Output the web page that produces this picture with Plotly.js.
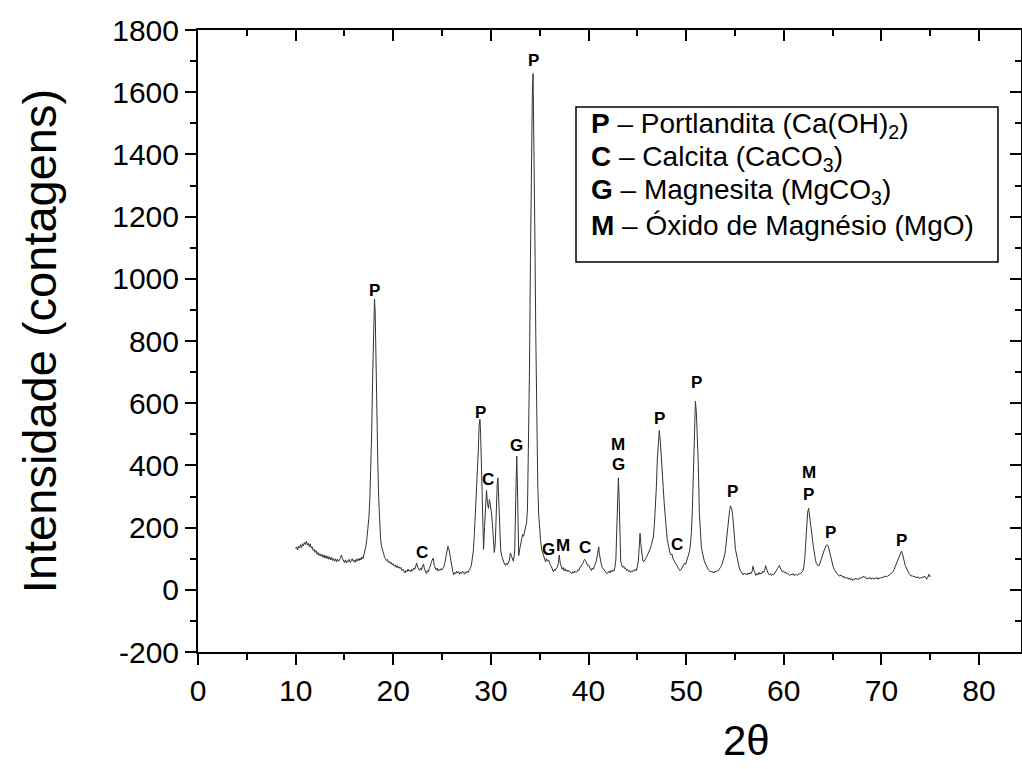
<!DOCTYPE html>
<html>
<head>
<meta charset="utf-8">
<script src="https://cdn.plot.ly/plotly-3.0.1.min.js"></script>
<style>html,body{margin:0;padding:0;background:#fff;}#chart{width:1022px;height:769px;}</style>
</head>
<body>
<div id="chart"></div>
<script>
// 2θ positions (degrees)
const twoTheta = [
10.0,10.1,10.2,10.3,10.4,10.5,10.6,10.7,10.8,10.9,11.0,11.1,11.2,11.3,11.4,11.5,11.6,11.7,11.8,11.9,
12.0,12.1,12.2,12.3,12.4,12.5,12.6,12.7,12.8,12.9,13.0,13.1,13.2,13.3,13.4,13.5,13.6,13.7,13.8,13.9,
14.0,14.1,14.2,14.3,14.4,14.5,14.6,14.7,14.8,14.9,15.0,15.1,15.2,15.3,15.4,15.5,15.6,15.7,15.8,15.9,
16.0,16.1,16.2,16.3,16.4,16.5,16.6,16.7,16.8,16.9,17.0,17.1,17.2,17.3,17.4,17.5,17.6,17.7,17.8,17.9,
18.0,18.08,18.15,18.2,18.3,18.4,18.5,18.6,18.7,18.8,18.9,19.0,19.1,19.2,19.3,19.4,19.5,19.6,19.7,19.8,19.9,
20.0,20.1,20.2,20.3,20.4,20.5,20.6,20.7,20.8,20.9,21.0,21.1,21.2,21.3,21.4,21.5,21.6,21.7,21.8,21.9,
22.0,22.1,22.2,22.3,22.4,22.5,22.6,22.7,22.8,22.9,23.0,23.1,23.2,23.3,23.4,23.5,23.6,23.7,23.8,23.9,
24.0,24.1,24.2,24.3,24.4,24.5,24.6,24.7,24.8,24.9,25.0,25.1,25.2,25.3,25.4,25.5,25.6,25.7,25.8,25.9,
26.0,26.1,26.2,26.3,26.4,26.5,26.6,26.7,26.8,26.9,27.0,27.1,27.2,27.3,27.4,27.5,27.6,27.7,27.8,27.9,
28.0,28.1,28.2,28.3,28.4,28.5,28.6,28.7,28.8,28.88,28.95,29.05,29.15,29.25,29.35,29.45,29.55,29.65,29.75,29.85,29.95,
30.05,30.15,30.25,30.35,30.45,30.55,30.65,30.72,30.8,30.9,31.0,31.1,31.2,31.3,31.4,31.5,31.6,31.7,31.8,31.9,
32.0,32.1,32.2,32.3,32.4,32.45,32.55,32.65,32.72,32.8,32.85,32.95,33.05,33.15,33.25,33.35,33.45,33.55,33.65,33.75,33.85,33.95,
34.05,34.15,34.25,34.32,34.4,34.5,34.6,34.7,34.8,34.9,35.0,35.1,35.2,35.3,35.4,35.5,35.6,35.7,35.8,35.9,
36.0,36.1,36.2,36.3,36.4,36.5,36.6,36.7,36.8,36.9,37.0,37.1,37.2,37.3,37.4,37.5,37.6,37.7,37.8,37.9,
38.0,38.1,38.2,38.3,38.4,38.5,38.6,38.7,38.8,38.9,39.0,39.1,39.2,39.3,39.4,39.5,39.6,39.7,39.8,39.9,
40.0,40.1,40.2,40.3,40.4,40.5,40.6,40.7,40.8,40.9,41.0,41.05,41.1,41.2,41.3,41.4,41.5,41.6,41.7,41.8,41.9,
42.0,42.1,42.2,42.3,42.4,42.5,42.6,42.7,42.8,42.9,43.0,43.06,43.12,43.2,43.3,43.4,43.5,43.6,43.7,43.8,43.9,
44.0,44.1,44.2,44.3,44.4,44.5,44.6,44.7,44.8,44.9,45.0,45.1,45.2,45.28,45.35,45.45,45.55,45.65,45.75,45.85,45.95,
46.05,46.15,46.25,46.35,46.45,46.55,46.65,46.75,46.85,46.95,47.05,47.15,47.25,47.35,47.45,47.55,47.65,47.75,47.85,47.95,
48.05,48.15,48.25,48.35,48.45,48.55,48.65,48.75,48.85,48.95,49.05,49.15,49.25,49.35,49.45,49.55,49.65,49.75,49.85,49.95,
50.05,50.15,50.25,50.35,50.45,50.55,50.65,50.75,50.85,50.95,51.05,51.15,51.25,51.35,51.45,51.55,51.65,51.75,51.85,51.95,
52.05,52.15,52.25,52.35,52.45,52.55,52.65,52.75,52.85,52.95,53.05,53.15,53.25,53.35,53.45,53.55,53.65,53.75,53.85,53.95,
54.05,54.15,54.25,54.35,54.45,54.55,54.65,54.75,54.85,54.95,55.05,55.15,55.25,55.35,55.45,55.55,55.65,55.75,55.85,55.95,
56.05,56.15,56.25,56.35,56.45,56.55,56.65,56.75,56.85,56.95,57.05,57.15,57.25,57.35,57.45,57.55,57.65,57.75,57.85,57.95,
58.05,58.15,58.25,58.35,58.45,58.55,58.65,58.75,58.85,58.95,59.05,59.15,59.25,59.35,59.45,59.55,59.65,59.75,59.85,59.95,
60.05,60.15,60.25,60.35,60.45,60.55,60.65,60.75,60.85,60.95,61.05,61.15,61.25,61.35,61.45,61.55,61.65,61.75,61.85,61.95,
62.05,62.15,62.25,62.35,62.45,62.55,62.65,62.75,62.85,62.95,63.05,63.15,63.25,63.35,63.45,63.55,63.65,63.75,63.85,63.95,
64.05,64.15,64.25,64.35,64.45,64.55,64.65,64.75,64.85,64.95,65.05,65.15,65.25,65.35,65.45,65.55,65.65,65.75,65.85,65.95,
66.05,66.15,66.25,66.35,66.45,66.55,66.65,66.75,66.85,66.95,67.05,67.15,67.25,67.35,67.45,67.55,67.65,67.75,67.85,67.95,
68.05,68.15,68.25,68.35,68.45,68.55,68.65,68.75,68.85,68.95,69.05,69.15,69.25,69.35,69.45,69.55,69.65,69.75,69.85,69.95,
70.05,70.15,70.25,70.35,70.45,70.55,70.65,70.75,70.85,70.95,71.05,71.15,71.25,71.35,71.45,71.55,71.65,71.75,71.85,71.95,
72.05,72.15,72.25,72.35,72.45,72.55,72.65,72.75,72.85,72.95,73.05,73.15,73.25,73.35,73.45,73.55,73.65,73.75,73.85,73.95,
74.05,74.15,74.25,74.35,74.45,74.55,74.65,74.75,74.85,74.95,75.0
];
// Intensity (counts)
const counts = [
132,138,128,140,134,145,136,148,141,152,146,156,144,150,138,148,134,138,126,130,
120,126,114,120,110,116,108,114,104,112,102,110,100,108,98,106,96,104,94,100,
92,100,90,98,92,96,104,112,100,94,88,96,86,94,90,98,88,94,100,92,
96,88,98,92,100,94,102,96,106,100,112,122,140,165,190,230,290,380,520,700,
880,935,890,780,620,440,300,200,165,140,125,112,106,100,94,98,88,92,84,88,80,
84,76,80,72,78,70,74,68,72,62,66,58,54,62,58,66,60,64,58,66,
62,70,66,76,86,72,66,62,70,64,78,82,66,56,52,62,58,70,76,90,
98,102,78,68,64,70,60,66,62,68,64,70,76,90,110,128,140,132,110,92,
82,58,48,56,52,60,54,58,50,56,52,60,56,50,58,54,60,56,66,70,
78,96,125,175,240,280,330,440,530,548,500,340,190,130,200,290,320,280,262,290,275,
250,215,160,120,150,260,340,360,290,180,130,110,98,88,82,78,86,80,88,96,
118,110,100,92,110,135,300,430,330,150,110,130,150,170,178,172,188,198,215,260,420,700,
1050,1380,1600,1660,1480,1160,820,520,340,240,190,155,130,118,108,96,90,100,92,96,
84,80,74,64,58,66,62,70,72,84,112,86,70,66,72,62,68,60,64,58,
62,56,54,52,58,54,60,56,58,64,62,70,74,78,84,92,98,94,86,78,
80,72,66,62,70,66,76,84,92,112,132,138,118,96,84,72,68,62,58,56,52,
56,60,54,62,58,64,60,72,96,200,330,360,310,180,92,80,72,76,68,70,62,
66,58,62,56,60,58,64,60,66,62,74,92,140,182,150,110,96,90,94,100,106,
112,118,124,134,146,158,170,210,265,330,420,480,512,480,440,380,330,280,232,195,
165,148,130,118,112,115,100,94,88,84,78,70,66,62,64,70,74,80,86,82,
92,100,110,124,150,190,270,410,540,606,570,500,400,250,180,140,122,104,94,86,
78,72,66,62,58,60,56,58,54,60,58,62,60,64,68,74,80,90,100,112,
135,165,200,235,255,270,262,245,215,170,130,112,98,80,70,62,56,52,48,54,
50,52,48,54,50,56,52,58,76,62,50,46,52,48,56,50,54,52,60,56,
64,78,66,54,50,48,52,46,50,48,52,56,62,68,74,78,70,62,58,60,
56,58,52,54,50,48,46,50,48,52,46,48,50,46,48,52,50,54,56,60,
72,100,150,210,250,262,240,220,185,160,135,112,95,84,78,76,80,88,96,106,
118,128,136,142,145,140,128,112,100,88,76,66,60,56,52,48,46,44,48,42,
40,44,38,40,36,40,34,38,32,36,30,34,32,38,34,36,32,38,36,40,
38,44,40,42,38,34,38,36,40,34,38,36,34,38,36,40,34,38,36,40,
38,42,40,44,42,42,44,46,48,50,52,56,62,70,78,86,96,106,114,120,
124,116,100,88,78,70,62,56,52,48,44,46,42,44,40,42,38,42,40,36,
40,38,42,40,44,38,34,40,50,42,46
];

// Phase labels on peaks
const labelText = ['P','C','P','C','G','P','G','M','C','M','G','P','C','P','P','M','P','P','P'];
const labelX    = [18.03,22.95,28.9,29.71,32.58,34.32,35.89,37.43,39.65,43.06,43.06,47.26,49.05,51.02,54.71,62.63,62.53,64.75,72.1];
const labelY    = [961,119,571,355,465,1703,128,142,135,467,402,551,146,665,316,377,307,185,160];

// Legend box lines
const legendLines = [
  '<b>P</b> – Portlandita (Ca(OH)<sub>2</sub>)',
  '<b>C</b> – Calcita (CaCO<sub>3</sub>)',
  '<b>G</b> – Magnesita (MgCO<sub>3</sub>)',
  '<b>M</b> – Óxido de Magnésio (MgO)'
];

const xTickVals = [0,10,20,30,40,50,60,70,80];
const xTickText = ['0','10','20','30','40','50','60','70','80'];
const yTickVals = [-200,0,200,400,600,800,1000,1200,1400,1600,1800];
const yTickText = ['-200','0','200','400','600','800','1000','1200','1400','1600','1800'];

const xTitle = '2θ';
const yTitle = 'Intensidade (contagens)';

const FONT = 'Liberation Sans, Arial, sans-serif';

const traces = [
  {x: twoTheta, y: counts, type: 'scatter', mode: 'lines',
   line: {color: '#333333', width: 1}, showlegend: false, hoverinfo: 'x+y'},
  {x: [null], y: [null], xaxis: 'x2', yaxis: 'y2', type: 'scatter', mode: 'lines',
   showlegend: false, hoverinfo: 'skip'}
];

const annotations = labelText.map((t, i) => ({
  x: labelX[i], y: labelY[i], xref: 'x', yref: 'y', text: '<b>' + t + '</b>',
  showarrow: false, font: {family: FONT, size: 17, color: '#000'}
}));

const legendY = [0.846, 0.794, 0.740, 0.686];
legendLines.forEach((t, i) => annotations.push({
  x: 0.475, y: legendY[i], xref: 'paper', yref: 'paper', xanchor: 'left', yanchor: 'middle',
  text: t, showarrow: false, font: {family: FONT, size: 28, color: '#000'}
}));

// x-axis title (placed under the right half, as in the reference)
annotations.push({
  x: 0.667, y: -0.143, xref: 'paper', yref: 'paper', xanchor: 'center', yanchor: 'middle',
  text: xTitle, showarrow: false, font: {family: FONT, size: 42, color: '#000'}
});

const axisCommon = {
  showline: true, linecolor: '#000', linewidth: 2, showgrid: false, zeroline: false,
  tickcolor: '#000', tickwidth: 2, ticklen: 11
};

const layout = {
  width: 1022, height: 769,
  margin: {l: 198, r: 1, t: 30, b: 117},
  paper_bgcolor: '#fff', plot_bgcolor: '#fff',
  font: {family: FONT, color: '#000'},
  showlegend: false,
  xaxis: Object.assign({}, axisCommon, {
    range: [0, 84.3], tickmode: 'array', tickvals: xTickVals, ticktext: xTickText, ticks: 'outside',
    tickfont: {family: FONT, size: 30, color: '#000'},
    minor: {dtick: 5, tick0: 0, ticks: 'outside', ticklen: 6, tickwidth: 2, tickcolor: '#000'}
  }),
  yaxis: Object.assign({}, axisCommon, {
    range: [-200, 1800], tickmode: 'array', tickvals: yTickVals, ticktext: yTickText, ticks: 'outside',
    tickfont: {family: FONT, size: 30, color: '#000'},
    minor: {dtick: 100, tick0: 0, ticks: 'outside', ticklen: 6, tickwidth: 2, tickcolor: '#000'},
    title: {text: yTitle, font: {family: FONT, size: 47, color: '#000'}, standoff: 41}
  }),
  xaxis2: Object.assign({}, axisCommon, {
    overlaying: 'x', side: 'top', anchor: 'y2', range: [0, 84.3], tickmode: 'array', tickvals: xTickVals,
    ticks: 'inside', showticklabels: false,
    minor: {dtick: 5, tick0: 0, ticks: 'inside', ticklen: 6, tickwidth: 2, tickcolor: '#000'}
  }),
  yaxis2: Object.assign({}, axisCommon, {
    overlaying: 'y', side: 'right', anchor: 'x2', range: [-200, 1800], tickmode: 'array', tickvals: yTickVals,
    ticks: 'inside', showticklabels: false,
    minor: {dtick: 100, tick0: 0, ticks: 'inside', ticklen: 6, tickwidth: 2, tickcolor: '#000'}
  }),
  shapes: [{
    type: 'rect', xref: 'paper', yref: 'paper', x0: 0.4593, x1: 0.972, y0: 0.627, y1: 0.8762,
    line: {color: '#000', width: 1.5}, fillcolor: 'rgba(0,0,0,0)'
  }],
  annotations: annotations
};

Plotly.newPlot('chart', traces, layout, {staticPlot: true, displayModeBar: false});
</script>
</body>
</html>
